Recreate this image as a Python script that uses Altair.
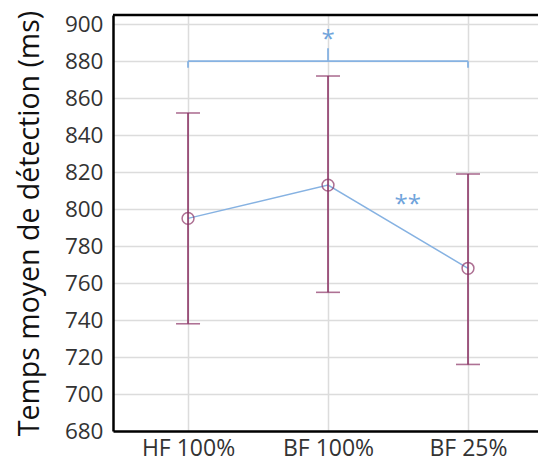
import altair as alt
import pandas as pd

categories = ["HF 100%", "BF 100%", "BF 25%"]
means = [795, 813, 768]
upper = [852, 872, 819]
lower = [738, 755, 716]
y_ticks = [680, 700, 720, 740, 760, 780, 800, 820, 840, 860, 880, 900]

bracket_y = 880
bracket_end_y = 876.5
bracket_tick_top = 887
star1 = {"x": 1.0, "y": 894, "label": "*"}
star2 = {"x": 1.57, "y": 805, "label": "**"}

LINE_BLUE = "#86b2e2"
MAROON = "#8c3566"
STAR_BLUE = "#6fa3db"

df = pd.DataFrame({
    "idx": list(range(len(categories))),
    "cat": categories,
    "mean": means,
    "upper": upper,
    "lower": lower,
})

label_expr = "datum.value == 0 ? 'HF 100%' : datum.value == 1 ? 'BF 100%' : datum.value == 2 ? 'BF 25%' : ''"

xscale = alt.Scale(domain=[-0.536, 2.5], nice=False, zero=False)
yscale = alt.Scale(domain=[680, 905], nice=False, zero=False)

x_axis = alt.Axis(
    values=[0, 1, 2], labelExpr=label_expr, title=None, grid=True,
    gridColor="#dcdcdc", gridWidth=1.5, ticks=False,
    domainColor="#000000", domainWidth=2.5,
    labelFont="Open Sans", labelFontSize=23, labelColor="#333333",
    labelPadding=6, labelAngle=0, labelOverlap=False,
)
y_axis = alt.Axis(
    values=y_ticks, title="Temps moyen de détection (ms)",
    grid=True, gridColor="#dcdcdc", gridWidth=1.5, ticks=False,
    domainColor="#000000", domainWidth=2.5,
    labelFont="Open Sans", labelFontSize=22.5, labelColor="#333333",
    labelPadding=10, labelOverlap=False,
    titleFont="Open Sans", titleFontSize=28.5, titleFontWeight="normal",
    titleColor="#111111", titlePadding=20,
)


def X(field):
    return alt.X(field, type="quantitative", scale=xscale, axis=x_axis)


def Y(field):
    return alt.Y(field, type="quantitative", scale=yscale, axis=y_axis)


base = alt.Chart(df)

line = base.mark_line(color=LINE_BLUE, strokeWidth=1.5).encode(x=X("idx"), y=Y("mean"))

err = base.mark_rule(color=MAROON, strokeWidth=1.6).encode(
    x=X("idx"), y=Y("lower"), y2="upper:Q",
)
cap_up = base.mark_tick(color=MAROON, thickness=1.6, size=24, orient="horizontal").encode(
    x=X("idx"), y=Y("upper"),
)
cap_lo = base.mark_tick(color=MAROON, thickness=1.6, size=24, orient="horizontal").encode(
    x=X("idx"), y=Y("lower"),
)
pts = base.mark_point(shape="circle", filled=False, color=MAROON, size=140, strokeWidth=1.5).encode(
    x=X("idx"), y=Y("mean"),
)

bracket_df = pd.DataFrame({
    "idx": [0, 0, 2, 1],
    "x2": [2, 0, 2, 1],
    "mean": [bracket_y, bracket_end_y, bracket_end_y, bracket_y],
    "y2": [bracket_y, bracket_y, bracket_y, bracket_tick_top],
})
bracket = alt.Chart(bracket_df).mark_rule(color=LINE_BLUE, strokeWidth=1.8).encode(
    x=X("idx"), x2="x2:Q", y=Y("mean"), y2="y2:Q",
)

stars_df = pd.DataFrame({
    "idx": [star1["x"], star2["x"]],
    "mean": [star1["y"], star2["y"]],
    "label": [star1["label"], star2["label"]],
})
stars = alt.Chart(stars_df).mark_text(
    color=STAR_BLUE, font="Open Sans", fontSize=24, baseline="middle", align="center", dy=5
).encode(
    x=X("idx"), y=Y("mean"), text="label:N",
)

top_border = alt.Chart(pd.DataFrame({"a": [0]})).mark_rule(color="#000000", strokeWidth=2.5).encode(
    x=alt.value(0), x2=alt.value(425), y=alt.value(0)
)

chart = alt.layer(line, err, cap_up, cap_lo, pts, bracket, stars, top_border).properties(
    width=425, height=416,
    autosize=alt.AutoSizeParams(type="none"),
    padding={"left": 105, "top": 7, "right": 0, "bottom": 27},
).configure_view(stroke=None).configure(background="white")

chart.save("out.html", embed_options={"renderer": "svg", "actions": False})
